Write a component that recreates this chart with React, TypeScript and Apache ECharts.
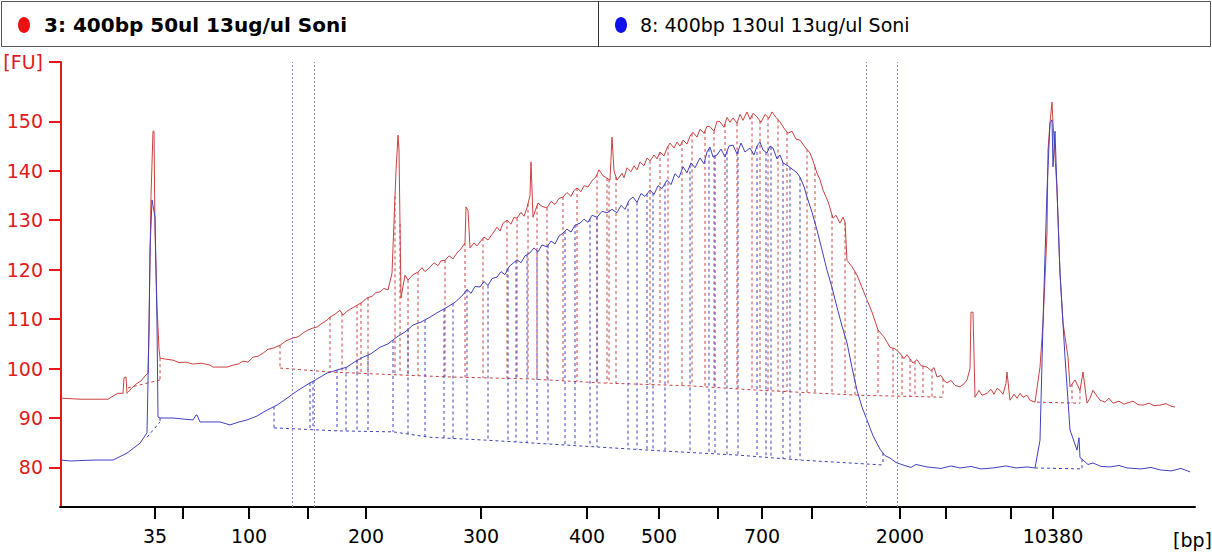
import React, { useEffect, useRef } from "react";
import * as echarts from "echarts";

// x: migration time index (arbitrary units), y: fluorescence [FU]
const redTrace: [number, number][] = [
  [0, 94.0], [20, 93.8], [47, 93.8], [55, 94.8], [57, 95.0], [62, 95.0], [63, 98.1], [65, 98.3], [66, 95.0], [67, 95.2],
  [71, 96.1], [76, 97.0], [80, 97.5], [84, 98.5], [87, 99.1], [88, 108.4], [90, 135], [92, 148.0], [93, 148.0], [94, 128],
  [96, 112.4], [98, 104], [99, 102.1], [105, 101.9], [112, 101.7], [118, 101.2], [125, 101.3], [132, 100.9], [140, 101.1],
  [149, 100.7], [152, 100.3], [166, 100.3], [172, 100.7], [177, 100.9], [182, 101.5], [187, 101.3], [192, 102.3],
  [197, 102.5], [202, 103.1], [207, 103.9], [212, 104.1], [219, 104.7], [225, 105.6], [232, 106.2], [237, 106.4],
  [242, 107.2], [247, 107.8], [252, 108.2], [256, 108.4], [260, 109.0], [266, 109.8], [269, 110.4], [274, 111.0],
  [279, 111.8], [282, 110.8], [286, 111.6], [291, 112.2], [296, 112.8], [301, 113.4], [306, 114.3], [311, 114.6],
  [315, 115.4], [319, 115.5], [323, 116.2], [327, 115.9], [331, 119.3], [335, 140], [337, 147.2], [338, 144.2],
  [340, 114.3], [344, 118.9], [347, 117.9], [352, 119.0], [357, 119.5], [361, 120.4], [364, 119.6], [369, 120.5],
  [373, 121.4], [377, 120.8], [380, 121.8], [384, 121.9], [388, 122.8], [392, 122.2], [396, 123.4], [400, 124.2],
  [404, 125.4], [405, 132.7], [407, 132.0], [409, 124.4], [413, 125.4], [416, 124.8], [419, 125.6], [423, 126.6],
  [427, 126.0], [432, 127.4], [436, 128.6], [439, 127.8], [442, 129.4], [446, 130.0], [450, 129.2], [453, 130.6],
  [456, 130.4], [460, 131.6], [463, 130.8], [466, 132.5], [469, 135], [470, 141.8], [472, 130.6], [477, 133.5],
  [481, 132.8], [486, 132.5], [490, 133.8], [494, 133.2], [498, 134.4], [502, 134.7], [506, 135.6], [510, 134.8],
  [513, 136.0], [516, 136.5], [520, 135.8], [523, 137.0], [527, 136.7], [531, 138.0], [535, 138.8], [538, 140.2],
  [542, 139.0], [546, 138.5], [549, 138.1], [551, 146.8], [553, 140], [556, 138.1], [561, 139.5], [563, 138.6],
  [566, 140.6], [570, 139.8], [573, 141.0], [576, 140.2], [579, 141.8], [583, 141.0], [586, 142.6], [589, 142.0],
  [593, 143.2], [596, 142.4], [599, 143.8], [603, 143.0], [606, 144.6], [609, 145.6], [613, 144.6], [616, 145.8],
  [619, 145.0], [622, 146.2], [626, 145.4], [629, 147.0], [632, 147.8], [636, 146.8], [639, 148.4], [643, 147.6],
  [646, 149.0], [649, 148.9], [653, 148.0], [656, 150.0], [659, 149.9], [663, 148.8], [666, 150.8], [669, 149.8],
  [672, 150.7], [676, 149.6], [679, 151.4], [682, 150.2], [686, 151.9], [689, 150.4], [692, 151.6], [696, 150.9],
  [700, 149.8], [704, 151.4], [708, 150.6], [711, 151.9], [715, 150.8], [719, 149.9], [723, 148.6], [727, 147.6],
  [731, 148.0], [735, 146.4], [739, 146.2], [744, 144.8], [749, 143.6], [752, 142.0], [756, 139.5], [759, 138.2],
  [762, 136.1], [767, 133.8], [772, 130.4], [775, 131.0], [779, 129.4], [782, 130.6], [784, 129.6], [786, 121.9],
  [791, 120.6], [796, 118.9], [801, 116.4], [806, 113.9], [811, 111.4], [817, 107.8], [823, 106.4], [829, 104.3],
  [834, 104.0], [839, 103.1], [843, 102.0], [846, 102.8], [852, 101.1], [856, 101.8], [860, 100.6], [866, 100.3],
  [870, 99.6], [873, 100.2], [876, 98.3], [880, 98.6], [883, 97.6], [886, 97.1], [890, 97.6], [894, 96.6],
  [899, 96.3], [903, 96.9], [906, 97.7], [909, 100], [910, 111.4], [912, 111.4], [914, 94.2], [918, 95.6],
  [921, 94.6], [926, 95.0], [930, 95.8], [933, 94.8], [936, 96.0], [939, 95.6], [942, 94.8], [945, 97], [946, 99.3],
  [949, 93.6], [953, 94.8], [956, 94.0], [959, 95.0], [962, 94.2], [966, 94.6], [969, 93.6], [974, 93.2],
  [979, 100.3], [982, 109.2], [986, 127.4], [987, 144.2], [989, 149.7], [991, 153.9], [992, 149.7], [996, 136.1],
  [999, 119.3], [1002, 109.2], [1007, 102.3], [1009, 96.3], [1014, 97.7], [1019, 95.6], [1022, 99.3], [1026, 93.0],
  [1029, 94.0], [1032, 95.6], [1036, 94.4], [1039, 93.6], [1044, 93.2], [1048, 94.0], [1052, 93.0], [1058, 93.4],
  [1063, 92.8], [1066, 93.0], [1072, 93.4], [1077, 92.7], [1082, 92.6], [1088, 93.0], [1093, 92.5], [1099, 92.6],
  [1105, 92.9], [1110, 92.4], [1114, 92.2],
];

const blueTrace: [number, number][] = [
  [0, 81.5], [10, 81.3], [20, 81.4], [35, 81.5], [52, 81.5], [66, 82.9], [79, 84.9], [86, 87.0], [88, 107.8], [89, 124],
  [91, 134.1], [92, 133], [94, 130.6], [96, 109.2], [97, 90.2], [99, 90.0], [112, 90.0], [122, 89.8], [132, 89.6],
  [135, 90.6], [136, 90.6], [139, 89.2], [159, 89.2], [169, 88.6], [178, 89.2], [186, 89.6], [196, 90.4], [206, 91.6],
  [216, 92.6], [226, 94.0], [237, 95.6], [249, 97.1], [257, 98.0], [266, 99.1], [276, 99.7], [286, 100.3], [294, 101.4],
  [302, 102.3], [310, 103.0], [319, 104.3], [327, 105.0], [336, 106.4], [344, 107.4], [352, 108.8], [360, 109.4],
  [369, 110.4], [377, 111.4], [386, 112.4], [394, 113.4], [402, 114.9], [406, 116.0], [410, 115.2], [414, 116.6],
  [419, 116.5], [423, 117.6], [427, 116.8], [431, 118.2], [436, 118.5], [440, 119.6], [444, 119.0], [448, 120.6],
  [452, 121.3], [456, 122.0], [460, 121.4], [464, 122.8], [469, 123.4], [473, 124.4], [477, 123.6], [481, 125.0],
  [486, 124.6], [490, 125.8], [494, 125.2], [498, 126.8], [502, 127.4], [506, 128.2], [510, 127.6], [514, 129.0],
  [519, 129.4], [523, 130.2], [527, 129.6], [531, 131.0], [536, 130.6], [541, 131.8], [546, 131.5], [551, 132.2],
  [556, 131.5], [560, 133.0], [564, 132.2], [568, 134.0], [572, 134.7], [576, 133.6], [580, 135.4], [584, 134.8],
  [589, 136.1], [593, 135.2], [597, 137.0], [601, 136.4], [606, 138.1], [610, 137.2], [614, 139.4], [618, 138.6],
  [622, 140.8], [626, 139.6], [630, 141.6], [634, 140.6], [639, 142.6], [643, 141.4], [646, 143.8], [649, 144.8],
  [652, 142.8], [656, 143.2], [660, 144.4], [664, 142.8], [668, 145.0], [672, 145.2], [676, 143.4], [680, 145.6],
  [684, 143.8], [689, 144.6], [693, 143.2], [696, 145.0], [699, 145.8], [702, 144.2], [706, 143.6], [709, 145.0],
  [712, 144.6], [716, 142.4], [719, 143.2], [722, 141.6], [727, 141.0], [732, 140.2], [736, 139.6], [739, 138.7],
  [743, 136.8], [746, 134.7], [751, 131.6], [756, 128.0], [761, 124.0], [766, 119.9], [771, 116.4], [776, 112.4],
  [781, 108.6], [786, 105.2], [791, 100.2], [796, 95.6], [801, 92.2], [806, 89.6], [812, 86.4], [819, 83.7],
  [824, 82.4], [829, 81.9], [835, 81.0], [842, 80.5], [850, 80.0], [855, 80.6], [866, 80.1], [880, 79.8], [890, 80.3],
  [899, 79.9], [910, 80.2], [920, 79.7], [932, 79.9], [945, 80.3], [955, 79.9], [966, 80.1], [974, 79.9], [979, 85.5],
  [982, 109.2], [986, 136.1], [989, 149.7], [991, 150.3], [992, 140.8], [994, 148], [996, 136.1], [999, 119.3],
  [1004, 102.3], [1009, 87.6], [1016, 83.5], [1018, 86], [1019, 82], [1022, 81.5], [1027, 80.6], [1032, 80.9],
  [1040, 80.2], [1049, 80.1], [1058, 80.4], [1066, 79.9], [1080, 79.7], [1090, 80.0], [1099, 79.5], [1110, 79.3],
  [1120, 79.8], [1129, 79.1],
];

const redBaselines: [number, number][][] = [
  [[67, 96.1], [99, 97.7]],
  [[219, 100.1], [269, 99.3], [339, 98.7], [389, 98.3], [469, 97.9], [539, 97.1], [629, 96.5], [699, 95.6], [799, 94.6], [882, 94.2]],
  [[976, 93.2], [1019, 93.0]],
];
const blueBaselines: [number, number][][] = [
  [[86, 86.1], [99, 89.2]],
  [[213, 88.0], [276, 87.4], [332, 87.2], [369, 86.1], [427, 85.5], [507, 84.5], [539, 84.1], [604, 83.3], [677, 82.5], [739, 81.5], [822, 80.5]],
  [[974, 79.9], [1021, 79.7]],
];

const redDrops: number[] = [
  99, 219, 269, 281, 296, 300, 307, 334, 339, 347, 357, 384, 404, 422, 446, 456, 467, 476, 486, 502, 516, 536, 546,
  548, 555, 589, 599, 607, 621, 631, 644, 653, 664, 676, 691, 699, 707, 717, 726, 746, 754, 771, 784, 794, 817, 832,
  841, 849, 854, 862, 871, 882, 1011, 1019,
];
const blueDrops: number[] = [
  99, 213, 249, 252, 276, 285, 296, 307, 332, 347, 364, 383, 392, 406, 427, 447, 455, 466, 476, 487, 504, 514, 529,
  536, 567, 576, 586, 592, 604, 629, 648, 654, 666, 677, 696, 705, 710, 722, 729, 739, 822, 974, 1021,
];

const regionMarkers: number[] = [231, 253, 805, 836];

const bpTickPositions: number[] = [94, 122, 188, 247, 305, 420, 526, 598, 657, 701, 751, 839, 885, 950, 992];
const bpLabelPositions: number[] = [94, 188, 305, 420, 526, 598, 701, 839, 992];
const bpLabels: string[] = ["35", "100", "200", "300", "400", "500", "700", "2000", "10380"];
const fuTicks: number[] = [80, 90, 100, 110, 120, 130, 140, 150, 162];

const sampleNames = ["3: 400bp 50ul 13ug/ul Soni", "8: 400bp 130ul 13ug/ul Soni"];

const RED = "#cc4040";
const BLUE = "#4040c0";
const FONT = "DejaVu Sans";

function interp(trace: [number, number][], t: number): number {
  for (let i = 0; i < trace.length - 1; i++) {
    const [x0, y0] = trace[i];
    const [x1, y1] = trace[i + 1];
    if (t >= x0 && t <= x1) {
      if (x1 === x0) return y0;
      return y0 + ((y1 - y0) * (t - x0)) / (x1 - x0);
    }
  }
  return trace[trace.length - 1][1];
}

function baselineData(segs: [number, number][][]) {
  const out: any[] = [];
  segs.forEach((s) => {
    s.forEach((p) => out.push(p));
    out.push([s[s.length - 1][0], "-"]);
  });
  return out;
}

function dropData(trace: [number, number][], segs: [number, number][][], drops: number[]) {
  const out: any[] = [];
  drops.forEach((t) => {
    let seg = segs.find((s) => t >= s[0][0] - 0.5 && t <= s[s.length - 1][0] + 0.5);
    if (!seg) seg = segs[1];
    out.push([t, interp(trace, t)]);
    out.push([t, interp(seg, t)]);
    out.push([t, "-"]);
  });
  return out;
}

export default function App() {
  const ref = useRef<HTMLDivElement>(null);
  useEffect(() => {
    if (!ref.current) return;
    const chart = echarts.init(ref.current, null, { renderer: "svg" });
    const dashed = (color: string) => ({ color, width: 1, type: [3, 3] as any });
    chart.setOption({
      animation: false,
      backgroundColor: "#ffffff",
      grid: { left: 60, right: 17, top: 62, bottom: 50 },
      xAxis: {
        type: "value",
        min: -1,
        max: 1134,
        splitLine: { show: false },
        axisLine: { show: true, lineStyle: { color: "#000", width: 2 } },
        axisTick: { show: true, length: 12, lineStyle: { color: "#000", width: 2 }, customValues: bpTickPositions },
        axisLabel: {
          show: true,
          customValues: bpLabelPositions,
          margin: 19,
          color: "#000",
          fontFamily: FONT,
          fontSize: 19,
          formatter: (v: number) => {
            const i = bpLabelPositions.indexOf(Math.round(v));
            return i >= 0 ? bpLabels[i] : "";
          },
        },
      },
      yAxis: {
        type: "value",
        min: 72,
        max: 162,
        splitLine: { show: false },
        axisLine: { show: true, lineStyle: { color: "#e31a1a", width: 2 } },
        axisTick: { show: true, length: 12, lineStyle: { color: "#e31a1a", width: 2 }, customValues: fuTicks },
        axisLabel: {
          show: true,
          customValues: fuTicks,
          margin: 17,
          color: "#e31a1a",
          fontFamily: FONT,
          fontSize: 19,
          formatter: (v: number) => (v === 162 ? "[FU]" : String(v)),
        },
      },
      graphic: [
        { type: "rect", shape: { x: 1.5, y: 1.5, width: 1209, height: 45 }, style: { fill: "#fff", stroke: "#555", lineWidth: 1 } },
        { type: "line", shape: { x1: 598.5, y1: 1.5, x2: 598.5, y2: 46.5 }, style: { stroke: "#333", lineWidth: 1 } },
        { type: "ellipse", shape: { cx: 24, cy: 25, rx: 6, ry: 8 }, style: { fill: "#ee1111" } },
        { type: "text", x: 44, y: 25, style: { text: sampleNames[0], fontFamily: FONT, fontSize: 20, fontWeight: "bold", fill: "#000", verticalAlign: "middle" } },
        { type: "ellipse", shape: { cx: 621, cy: 25, rx: 6, ry: 8 }, style: { fill: "#1111ee" } },
        { type: "text", x: 640, y: 25, style: { text: sampleNames[1], fontFamily: FONT, fontSize: 19, fill: "#000", verticalAlign: "middle" } },
        { type: "text", x: 1173, y: 540, style: { text: "[bp]", fontFamily: FONT, fontSize: 19, fill: "#000", verticalAlign: "middle" } },
      ],
      series: [
        {
          type: "line",
          data: [],
          silent: true,
          markLine: {
            symbol: "none",
            silent: true,
            label: { show: false },
            lineStyle: { color: "#8888cc", width: 1, type: [2, 2] },
            data: regionMarkers.map((x) => ({ xAxis: x })),
          },
        },
        { type: "line", data: baselineData(redBaselines), showSymbol: false, lineStyle: dashed(RED), connectNulls: false },
        { type: "line", data: dropData(redTrace, redBaselines, redDrops), showSymbol: false, lineStyle: dashed(RED), connectNulls: false },
        { type: "line", data: baselineData(blueBaselines), showSymbol: false, lineStyle: dashed(BLUE), connectNulls: false },
        { type: "line", data: dropData(blueTrace, blueBaselines, blueDrops), showSymbol: false, lineStyle: dashed(BLUE), connectNulls: false },
        { type: "line", name: sampleNames[0], data: redTrace, showSymbol: false, lineStyle: { color: RED, width: 1 } },
        { type: "line", name: sampleNames[1], data: blueTrace, showSymbol: false, lineStyle: { color: BLUE, width: 1 } },
      ],
    });
    return () => chart.dispose();
  }, []);
  return <div ref={ref} style={{ position: "fixed", left: 0, top: 0, width: 1212, height: 557 }} />;
}
